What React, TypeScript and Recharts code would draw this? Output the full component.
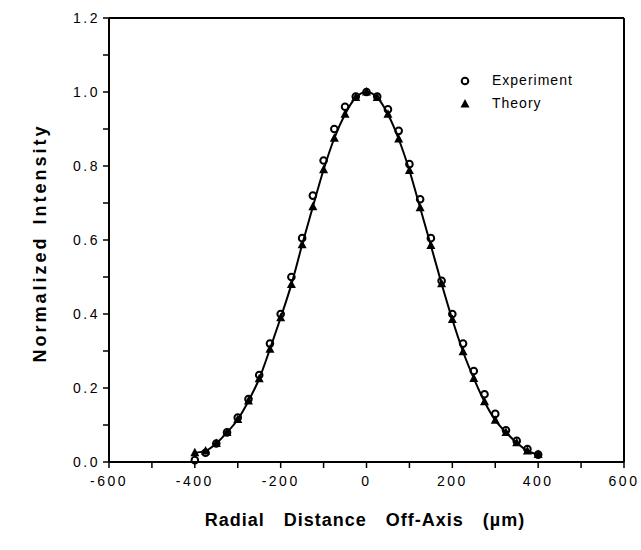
import {
  ComposedChart,
  Line,
  Scatter,
  XAxis,
  YAxis,
  ReferenceLine,
  Label,
} from 'recharts';

const radius = [
  -400, -375, -350, -325, -300, -275, -250, -225, -200, -175, -150, -125, -100, -75, -50, -25, 0,
  25, 50, 75, 100, 125, 150, 175, 200, 225, 250, 275, 300, 325, 350, 375, 400,
];
const experiment = [
  0.005, 0.025, 0.05, 0.08, 0.12, 0.17, 0.235, 0.32, 0.4, 0.5, 0.605, 0.72, 0.815, 0.9, 0.96, 0.988, 1.0,
  0.988, 0.953, 0.895, 0.805, 0.71, 0.605, 0.49, 0.4, 0.32, 0.246, 0.183, 0.13, 0.086, 0.057, 0.035, 0.02,
];
const theory = [
  0.025, 0.03, 0.05, 0.08, 0.115, 0.165, 0.225, 0.305, 0.39, 0.48, 0.587, 0.69, 0.79, 0.875, 0.94, 0.985, 1.0,
  0.985, 0.94, 0.873, 0.788, 0.687, 0.585, 0.482, 0.385, 0.298, 0.226, 0.163, 0.113, 0.08, 0.052, 0.03, 0.02,
];
const xTicks = [-600, -500, -400, -300, -200, -100, 0, 100, 200, 300, 400, 500, 600];
const yTicks = [0, 0.1, 0.2, 0.3, 0.4, 0.5, 0.6, 0.7, 0.8, 0.9, 1.0, 1.1, 1.2];

const rows = radius.map((x, i) => ({ x, exp: experiment[i], theory: theory[i] }));

const FONT = '"Liberation Sans", Arial, Helvetica, sans-serif';

const OpenCircle = (p: any) => (
  <circle cx={p.cx} cy={p.cy} r={3.3} fill="none" stroke="#000" strokeWidth={2} />
);
const Triangle = (p: any) => (
  <polygon
    points={`${p.cx},${p.cy - 5} ${p.cx - 4.5},${p.cy + 3.5} ${p.cx + 4.5},${p.cy + 3.5}`}
    fill="#000"
  />
);

// legend sits over the plot, top right
function LegendBox() {
  return (
    <div
      style={{
        position: 'absolute',
        left: 459,
        top: 69,
        fontFamily: FONT,
        fontSize: 14,
        letterSpacing: 1,
        color: '#000',
        lineHeight: '23px',
      }}
    >
      <div style={{ display: 'flex', alignItems: 'center' }}>
        <svg width={33} height={12}>
          <circle cx={6} cy={6} r={3.3} fill="none" stroke="#000" strokeWidth={2} />
        </svg>
        <span>Experiment</span>
      </div>
      <div style={{ display: 'flex', alignItems: 'center' }}>
        <svg width={33} height={12}>
          <polygon points="6,1 1.5,9.5 10.5,9.5" fill="#000" />
        </svg>
        <span>Theory</span>
      </div>
    </div>
  );
}

export default function App() {
  const tickStyle = { fontSize: 14, fill: '#000', fontFamily: FONT, letterSpacing: 2.5 };
  return (
    <div style={{ position: 'absolute', left: 0, top: 0, width: 641, height: 550, background: '#fff' }}>
      <ComposedChart width={641} height={550} data={rows} margin={{ top: 18, right: 17, left: 49, bottom: 58 }}>
        <XAxis
          dataKey="x"
          type="number"
          domain={[-600, 600]}
          ticks={xTicks}
          height={30}
          tick={tickStyle}
          tickSize={6}
          tickMargin={8}
          tickLine={{ stroke: '#000', strokeWidth: 1.5 }}
          axisLine={{ stroke: '#000', strokeWidth: 2 }}
          tickFormatter={(v) => (v % 200 === 0 ? String(v) : '')}
        >
          <Label
            content={() => (
              <text
                x={365}
                y={526}
                textAnchor="middle"
                fontFamily={FONT}
                fontWeight="bold"
                fontSize={18}
                letterSpacing={1}
                wordSpacing={13}
                fill="#000"
              >
                Radial Distance Off-Axis (µm)
              </text>
            )}
          />
        </XAxis>
        <YAxis
          type="number"
          domain={[0, 1.2]}
          ticks={yTicks}
          width={60}
          tick={tickStyle}
          tickSize={6}
          tickMargin={3}
          tickLine={{ stroke: '#000', strokeWidth: 1.5 }}
          axisLine={{ stroke: '#000', strokeWidth: 2 }}
          tickFormatter={(v) => (Math.round(v * 10) % 2 === 0 ? v.toFixed(1) : '')}
        >
          <Label
            content={() => (
              <text
                x={46}
                y={243}
                textAnchor="middle"
                transform="rotate(-90 46 243)"
                fontFamily={FONT}
                fontWeight="bold"
                fontSize={18}
                letterSpacing={3}
                wordSpacing={3}
                fill="#000"
              >
                Normalized Intensity
              </text>
            )}
          />
        </YAxis>
        <ReferenceLine y={1.2} stroke="#000" strokeWidth={2} />
        <ReferenceLine x={600} stroke="#000" strokeWidth={2} />
        <Line
          dataKey="theory"
          type="monotone"
          stroke="#000"
          strokeWidth={2}
          dot={false}
          isAnimationActive={false}
        />
        <Scatter dataKey="theory" name="Theory" shape={Triangle} isAnimationActive={false} />
        <Scatter dataKey="exp" name="Experiment" shape={OpenCircle} isAnimationActive={false} />
      </ComposedChart>
      <LegendBox />
    </div>
  );
}
